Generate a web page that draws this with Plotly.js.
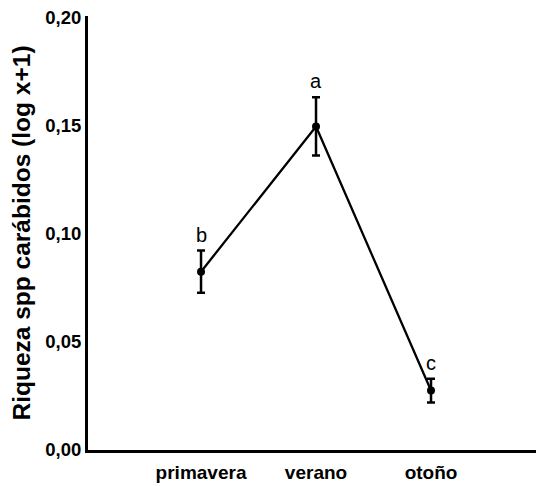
<!DOCTYPE html>
<html>
<head>
<meta charset="utf-8">
<script src="https://cdn.plot.ly/plotly-3.0.1.min.js"></script>
<style>html,body{margin:0;padding:0;background:#fff;}#chart{width:541px;height:486px;}</style>
</head>
<body>
<div id="chart"></div>
<script>
const seasons = ["primavera", "verano", "otoño"];
const richness = [0.0825, 0.1497, 0.0275];
const errors = [0.0098, 0.0135, 0.0055];
const letters = ["b", "a", "c"];
const yTickVals = [0, 0.05, 0.10, 0.15, 0.20];

const trace = {
  x: seasons,
  y: richness,
  type: "scatter",
  mode: "lines+markers",
  line: {color: "#000", width: 2.3},
  marker: {color: "#000", size: 8},
  error_y: {type: "data", array: errors, visible: true, color: "#000", thickness: 2.5, width: 4},
  hoverinfo: "skip",
  showlegend: false
};

const annotations = seasons.map((s, i) => ({
  x: s, y: richness[i] + errors[i], xref: "x", yref: "y",
  text: letters[i], showarrow: false, yanchor: "bottom", yshift: 3,
  font: {family: "Liberation Sans, Arial, sans-serif", size: 20, color: "#000"}
}));

const layout = {
  width: 541, height: 486,
  margin: {l: 88, r: 5, t: 16, b: 36},
  paper_bgcolor: "#fff", plot_bgcolor: "#fff",
  separators: ",.",
  xaxis: {
    type: "category", range: [-0.983, 2.913],
    showline: true, linecolor: "#000", linewidth: 3,
    showgrid: false, zeroline: false, ticks: "", ticklabelstandoff: 3,
    tickfont: {family: "Liberation Sans, Arial, sans-serif", size: 19, color: "#000", weight: "bold"}
  },
  yaxis: {
    range: [0, 0.2008], tickvals: yTickVals, tickformat: ".2f",
    showline: true, linecolor: "#000", linewidth: 3,
    showgrid: false, zeroline: false, ticks: "",
    tickfont: {family: "Liberation Sans, Arial, sans-serif", size: 18.5, color: "#000", weight: "bold"},
    title: {text: "Riqueza spp carábidos (log x+1)", standoff: 8,
      font: {family: "Liberation Sans, Arial, sans-serif", size: 24.5, color: "#000", weight: "bold"}}
  },
  annotations: annotations
};

Plotly.newPlot("chart", [trace], layout, {staticPlot: true, displayModeBar: false});
</script>
</body>
</html>
